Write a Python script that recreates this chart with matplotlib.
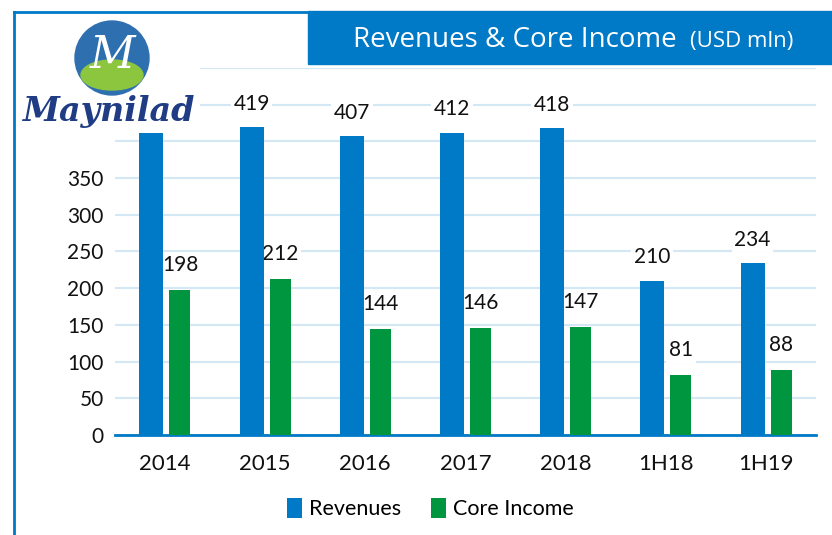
import numpy as np
import matplotlib
matplotlib.use("Agg")
import matplotlib.pyplot as plt
from matplotlib.patches import Rectangle, Circle, Ellipse
from matplotlib.lines import Line2D

periods = ["2014", "2015", "2016", "2017", "2018", "1H18", "1H19"]
revenues = [411, 419, 407, 412, 418, 210, 234]
core_income = [198, 212, 144, 146, 147, 81, 88]

blue = "#0079C6"
green = "#00963F"
grid_c = "#D3E7F4"
font = ["Lato", "DejaVu Sans"]

fig = plt.figure(figsize=(8.32, 5.35), dpi=100)
ax = fig.add_axes([0.138, 0.187, 0.843, 0.686])

x = np.arange(len(periods))
b1 = ax.bar(x - 0.135, revenues, 0.24, color=blue, label="Revenues", zorder=3)
b2 = ax.bar(x + 0.15, core_income, 0.21, color=green, label="Core Income", zorder=3)

# the 2014 revenue label sits behind the logo in the original, so it is skipped
for i, (rect, v) in enumerate(zip(b1, revenues)):
    if i == 0:
        continue
    ax.annotate(str(v), (rect.get_x() + rect.get_width() / 2, v), xytext=(0, 17),
                textcoords="offset points", ha="center", va="center",
                fontsize=15, family=font, color="#111111", zorder=2,
                bbox=dict(fc="white", ec="none", pad=2))
for rect, v in zip(b2, core_income):
    ax.annotate(str(v), (rect.get_x() + rect.get_width() / 2, v), xytext=(0, 18),
                textcoords="offset points", ha="center", va="center",
                fontsize=15, family=font, color="#111111", zorder=2,
                bbox=dict(fc="white", ec="none", pad=2))

ax.set_xlim(-0.5, len(periods) - 0.5)
ax.set_ylim(0, 500)
ax.set_yticks(np.arange(0, 501, 50))
ax.set_yticklabels([str(t) if t <= 350 else "" for t in range(0, 501, 50)])
ax.yaxis.grid(True, color=grid_c, lw=1.5, zorder=0)
ax.set_xticks(x)
ax.set_xticklabels(periods)
for s in ["top", "right", "left"]:
    ax.spines[s].set_visible(False)
ax.spines["bottom"].set_color(blue)
ax.spines["bottom"].set_linewidth(2)
ax.tick_params(length=0, labelsize=15, colors="#111111", pad=8)
ax.tick_params(axis="x", labelsize=16, pad=14)
for lab in ax.get_xticklabels() + ax.get_yticklabels():
    lab.set_family(font)

leg = ax.legend(loc="upper center", bbox_to_anchor=(0.45, -0.12), ncol=2, frameon=False,
                handlelength=0.7, handleheight=1.0, handletextpad=0.3,
                columnspacing=1.4, prop={"family": font, "size": 15.5})

# frame lines
fig.add_artist(Line2D([14 / 832, 14 / 832], [0, 1 - 12 / 535], color=blue, lw=2))
fig.add_artist(Line2D([14 / 832, 308 / 832], [1 - 12 / 535, 1 - 12 / 535], color=blue, lw=2))

# title box
fig.add_artist(Rectangle((308 / 832, 1 - 64 / 535), 524 / 832, 53 / 535,
                         transform=fig.transFigure, color=blue, zorder=5))
fig.text(353 / 832, 1 - 40 / 535, "Revenues & Core Income", color="white",
         fontsize=20, family=["Open Sans", "DejaVu Sans"], va="center", zorder=6)
fig.text(690 / 832, 1 - 41 / 535, "(USD mln)", color="white",
         fontsize=16, family=["Open Sans", "DejaVu Sans"], va="center", zorder=6)

# logo
logo = fig.add_axes([15 / 832, 1 - 133 / 535, 185 / 832, 115 / 535])
logo.set_xlim(0, 185)
logo.set_ylim(0, 115)
logo.set_facecolor("white")
logo.set_xticks([])
logo.set_yticks([])
for s in logo.spines.values():
    s.set_visible(False)
logo.add_patch(Circle((97, 75), 37, color="#2E6FB0"))
logo.add_patch(Ellipse((97, 58), 62, 30, color="#8CC63F"))
logo.text(97, 78, "M", color="white", fontsize=32, ha="center", va="center",
          family="DejaVu Serif", style="italic")
logo.text(94, 22, "Maynilad", color="#1F3C85", fontsize=24, ha="center", va="center",
          family="DejaVu Serif", style="italic", weight="bold")

fig.savefig("out.png", dpi=100)
